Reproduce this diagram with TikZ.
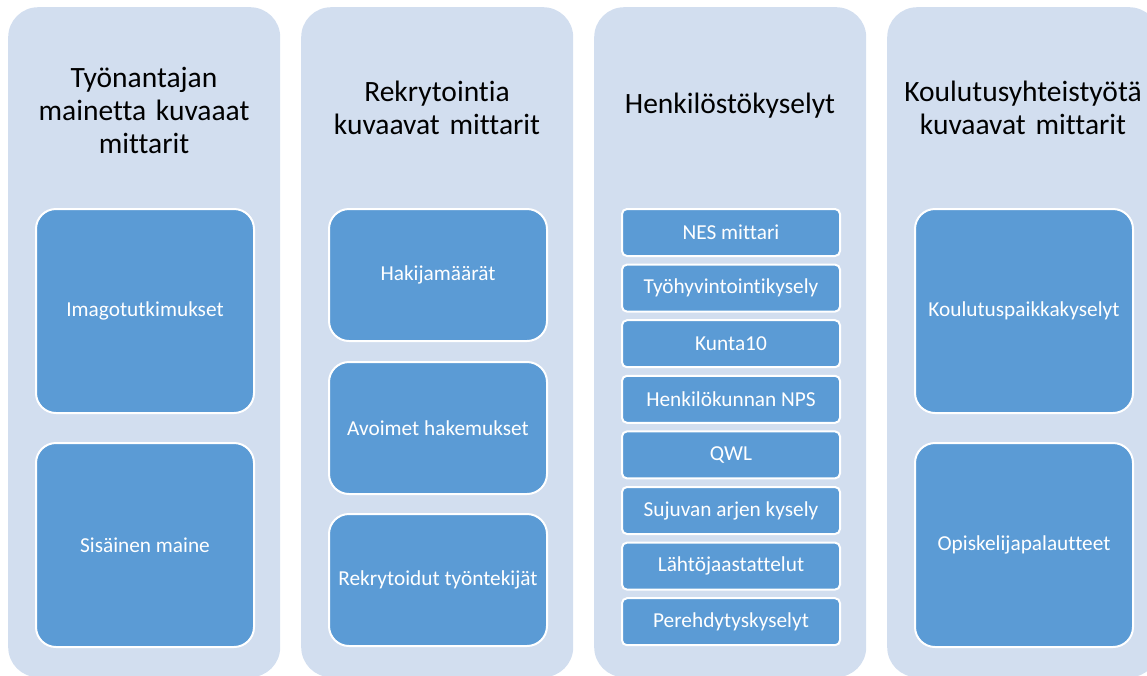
\documentclass[tikz,border=0pt]{standalone}
\usepackage{fontspec}
\setmainfont{Carlito}[Ligatures=NoCommon]
\definecolor{panelbg}{HTML}{D2DEEF}
\definecolor{itembg}{HTML}{5B9BD5}
\begin{document}
\begin{tikzpicture}[x=1pt,y=-1pt,
    panel/.style={fill=panelbg,rounded corners=30pt,minimum width=272pt,minimum height=670pt,anchor=north west,inner sep=0pt},
    paneltitle/.style={font=\fontsize{29.5}{33}\selectfont,align=center,text width=285pt},
    bigitem/.style={fill=itembg,draw=white,line width=2pt,rounded corners=20pt,text=white,font=\fontsize{21.3}{25}\selectfont,minimum width=218pt,anchor=north west,inner sep=0pt},
    smallitem/.style={bigitem,rounded corners=5pt,minimum height=47pt}]
    \useasboundingbox (0,0) rectangle (1147,675);
    % panels
    \node[panel] (p1) at (8,7) {};
    \node[panel] (p2) at (301,7) {};
    \node[panel] (p3) at (594,7) {};
    \node[panel] (p4) at (887,7) {};
    \node[paneltitle] (t1) at (144,110) {Työnantajan\\mainetta kuvaaat\\mittarit};
    \node[paneltitle] (t2) at (437,108) {Rekrytointia\\kuvaavat mittarit};
    \node[paneltitle] (t3) at (730,106) {Henkilöstökyselyt};
    \node[paneltitle] (t4) at (1023,108) {Koulutusyhteistyötä\\kuvaavat mittarit};
    % first panel
    \node[bigitem,minimum height=204pt] (imago) at (35,208) {Imagotutkimukset};
    \node[bigitem,minimum height=204pt] (sisainen) at (35,442) {Sisäinen maine};
    % second panel
    \node[bigitem,minimum height=132pt] (hakija) at (328,208) {Hakijamäärät};
    \node[bigitem,minimum height=132pt] (avoimet) at (328,361) {Avoimet hakemukset};
    \node[bigitem,minimum height=132pt] (rekry) at (328,513) {Rekrytoidut työntekijät};
    % third panel
    \node[smallitem] (nes) at (621,208) {NES mittari};
    \node[smallitem] (tyohyv) at (621,263.6) {Työhyvintointikysely};
    \node[smallitem] (kunta) at (621,319.2) {Kunta10};
    \node[smallitem] (nps) at (621,374.8) {Henkilökunnan NPS};
    \node[smallitem] (qwl) at (621,430.4) {QWL};
    \node[smallitem] (sujuva) at (621,486) {Sujuvan arjen kysely};
    \node[smallitem] (lahto) at (621,541.6) {Lähtöjaastattelut};
    \node[smallitem] (pereh) at (621,597.2) {Perehdytyskyselyt};
    % fourth panel
    \node[bigitem,minimum height=204pt] (koulutus) at (914,208) {Koulutuspaikkakyselyt};
    \node[bigitem,minimum height=204pt] (opisk) at (914,442) {Opiskelijapalautteet};
\end{tikzpicture}
\end{document}
